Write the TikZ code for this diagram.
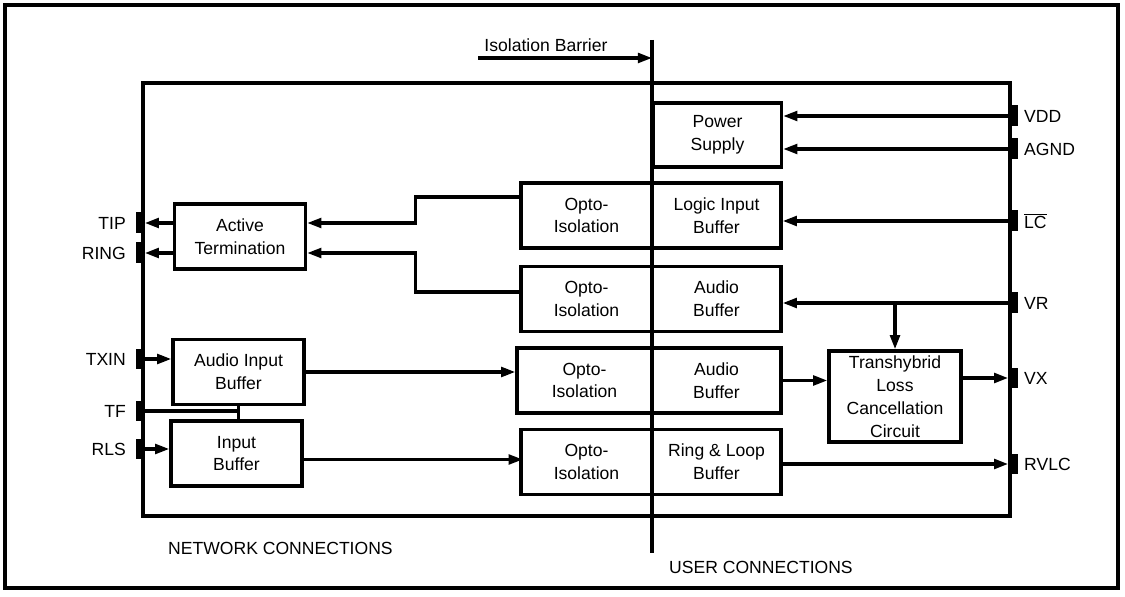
\documentclass[tikz,border=0pt]{standalone}
\usepackage{fontspec}
\setmainfont{Liberation Sans}
\usetikzlibrary{arrows.meta,positioning}

\begin{document}
\begin{tikzpicture}[x=0.02cm, y=-0.02cm,
    every node/.style={font=\fontsize{10}{13}\selectfont},
    blk/.style={draw, line width=2pt, align=center, inner sep=0pt, minimum width=2.62cm, minimum height=1.3cm},
    pinbox/.style={fill, inner sep=0pt, minimum width=0.18cm, minimum height=0.42cm},
    lbl/.style={inner sep=0pt},
    wire/.style={line width=1.8pt},
    arr/.style={wire, -{Triangle[length=8pt,width=5.5pt]}}]
    \useasboundingbox (0,0) rectangle (1125,597);
    \draw[line width=2pt] (5,5) rectangle (1118,588);
    \draw[line width=1.8pt] (143,83) rectangle (1010,516);

    % blocks on the network side
    \node[blk] (at)  at (240,236.5) {Active\\Termination};
    \node[blk] (aib) at (238.5,372) {Audio Input\\Buffer};
    \node[blk] (ib)  at (236.5,453.5) {Input\\Buffer};

    % opto-isolation rows, split by the barrier
    \node[blk] (o1) at (586.5,215.5) {Opto-\\Isolation};
    \node[blk, minimum width=2.58cm] (b1) at (716.5,215.5) {Logic Input\\Buffer};
    \node[blk] (o2) at (586.5,299) {Opto-\\Isolation};
    \node[blk, minimum width=2.58cm] (b2) at (716.5,299) {Audio\\Buffer};
    \node[blk, minimum width=2.7cm] (o3) at (584.5,380.5) {Opto-\\Isolation};
    \node[blk, minimum width=2.58cm] (b3) at (716.5,380.5) {Audio\\Buffer};
    \node[blk] (o4) at (586.5,462) {Opto-\\Isolation};
    \node[blk, minimum width=2.58cm] (b4) at (716.5,462) {Ring \& Loop\\Buffer};

    % user side
    \node[blk, minimum width=2.56cm, minimum height=1.28cm] (ps) at (717.5,135) {Power\\Supply};
    \node[blk, minimum width=2.64cm, minimum height=1.82cm] (th) at (895,396.5) {Transhybrid\\Loss\\Cancellation\\Circuit};

    % isolation barrier
    \coordinate (bartop) at (652,40);
    \coordinate (barbot) at (652,553);
    \draw[line width=1.8pt] (bartop) -- (barbot);
    \node (barlbl) at (546,45) {Isolation Barrier};
    \coordinate (barstart) at (478,58);
    \draw[arr] (barstart) -- (barstart -| bartop);

    % pins, left
    \node[pinbox] (tip)  at (140,223) {};
    \node[pinbox] (ring) at (140,253) {};
    \node[pinbox] (txin) at (140,359) {};
    \node[pinbox] (tf)   at (140,411) {};
    \node[pinbox] (rls)  at (140,449) {};
    \node[lbl, left=0.18cm of tip]  {TIP};
    \node[lbl, left=0.18cm of ring] {RING};
    \node[lbl, left=0.18cm of txin] {TXIN};
    \node[lbl, left=0.18cm of tf]   {TF};
    \node[lbl, left=0.18cm of rls]  {RLS};

    % pins, right
    \node[pinbox] (vdd)  at (1013,116) {};
    \node[pinbox] (agnd) at (1013,149) {};
    \node[pinbox] (lc)   at (1013,221) {};
    \node[pinbox] (vr)   at (1013,303) {};
    \node[pinbox] (vx)   at (1013,378) {};
    \node[pinbox] (rvlc) at (1013,464) {};
    \node[lbl, right=0.12cm of vdd]  {VDD};
    \node[lbl, right=0.12cm of agnd] {AGND};
    \node[lbl, right=0.12cm of lc]   {$\overline{\mbox{LC}}$};
    \node[lbl, right=0.12cm of vr]   {VR};
    \node[lbl, right=0.12cm of vx]   {VX};
    \node[lbl, right=0.12cm of rvlc] {RVLC};

    % network side wiring
    \draw[arr] (at.west |- tip) -- (tip.east);
    \draw[arr] (at.west |- ring) -- (ring.east);
    \draw[arr] ([yshift=0.37cm]o1.west) -- ++(-104,0) |- (at.east |- tip);
    \draw[arr] ([yshift=0.14cm]o2.west) -- ++(-104,0) |- (at.east |- ring);
    \draw[arr] (txin.east) -- (aib.west |- txin);
    \draw[wire] (tf.east) -| (aib.south);
    \draw[wire] (aib.south) -- (aib.south |- ib.north);
    \draw[arr] (rls.east) -- (ib.west |- rls);
    \draw[arr] (aib.east) -- (o3.west |- aib.east);
    \draw[arr] ([yshift=-0.12cm]ib.east) -- ++(219,0);

    % user side wiring
    \draw[arr] (vdd.west) -- (ps.east |- vdd);
    \draw[arr] (agnd.west) -- (ps.east |- agnd);
    \draw[arr] (lc.west) -- (b1.east |- lc);
    \draw[arr] (vr.west) -- (b2.east |- vr);
    \draw[arr] (th.north |- vr) -- (th.north);
    \draw[arr] (b3.east) -- (th.west |- b3.east);
    \draw[arr] (th.east |- vx) -- (vx.west);
    \draw[arr] (b4.east |- rvlc) -- (rvlc.west);

    \node[anchor=west] (netlbl) at (162,548) {NETWORK CONNECTIONS};
    \node[anchor=west] (userlbl) at (663,567) {USER CONNECTIONS};
\end{tikzpicture}
\end{document}
